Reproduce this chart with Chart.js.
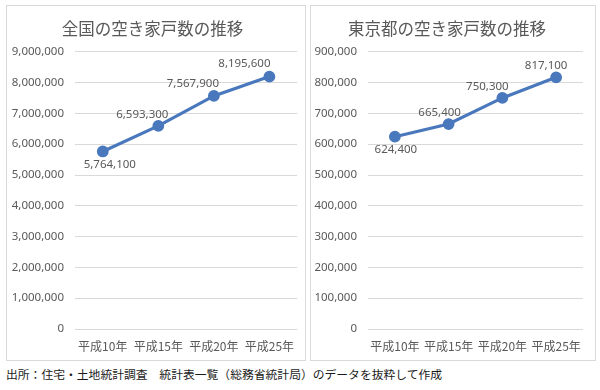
<!DOCTYPE html>
<html>
<head>
<meta charset="utf-8">
<script src="https://cdn.jsdelivr.net/npm/chart.js@4.4.1/dist/chart.umd.min.js"></script>
<style>
  html, body { margin: 0; padding: 0; background: #ffffff; width: 600px; height: 390px; overflow: hidden; }
  .panel { position: absolute; border: 1px solid #d9d9d9; box-sizing: border-box; background: #fff; }
  #p1 { left: 6px; top: 5px; width: 300px; height: 356px; }
  #p2 { left: 310px; top: 5px; width: 286px; height: 356px; }
  .panel canvas { position: absolute; left: 0; top: 0; }
  #footer { position: absolute; left: 6px; top: 365px; font-family: 'Noto Sans CJK JP', sans-serif; font-size: 11.8px; color: #1a1a1a; white-space: nowrap; }
</style>
</head>
<body>
<div class="panel" id="p1"><canvas id="c1" width="298" height="354"></canvas></div>
<div class="panel" id="p2"><canvas id="c2" width="284" height="354"></canvas></div>
<div id="footer">出所：住宅・土地統計調査　統計表一覧（総務省統計局）のデータを抜粋して作成</div>
<script>
// ---- data ----
const categories = ['平成10年', '平成15年', '平成20年', '平成25年'];
const nationalValues = [5764100, 6593300, 7567900, 8195600];
const tokyoValues = [624400, 665400, 750300, 817100];
const nationalTitle = '全国の空き家戸数の推移';
const tokyoTitle = '東京都の空き家戸数の推移';
const nationalAxis = { max: 9000000, step: 1000000 };
const tokyoAxis = { max: 900000, step: 100000 };

const GRAY = '#595959';
const LINE = '#4a78bd';
const numFont = "'Noto Sans', 'Noto Sans CJK JP', sans-serif";
const jpFont = "'Noto Sans CJK JP', sans-serif";

const labelPlugin = {
  id: 'pointLabels',
  afterDatasetsDraw(chart, args, opts) {
    const ctx = chart.ctx;
    const meta = chart.getDatasetMeta(0);
    const data = chart.data.datasets[0].data;
    ctx.save();
    ctx.font = '11.5px ' + numFont;
    ctx.fillStyle = GRAY;
    ctx.textAlign = 'center';
    ctx.textBaseline = 'middle';
    meta.data.forEach((pt, i) => {
      const off = opts.offsets[i];
      ctx.fillText(data[i].toLocaleString('en-US'), pt.x + off[0], pt.y + off[1]);
    });
    ctx.restore();
  }
};

function makeChart(id, title, values, axis, yAxisWidth, padRight, offsets) {
  return new Chart(document.getElementById(id), {
    type: 'line',
    data: {
      labels: categories,
      datasets: [{
        data: values,
        borderColor: LINE,
        backgroundColor: LINE,
        borderWidth: 3.2,
        pointRadius: 4.3,
        pointHoverRadius: 4.3,
        pointBackgroundColor: LINE,
        pointBorderColor: LINE,
        tension: 0,
        fill: false
      }]
    },
    plugins: [labelPlugin],
    options: {
      responsive: false,
      animation: false,
      events: [],
      layout: { padding: { top: 0, left: 0, right: padRight, bottom: 0 } },
      plugins: {
        legend: { display: false },
        tooltip: { enabled: false },
        title: {
          display: true,
          text: title,
          color: GRAY,
          font: { family: jpFont, size: 16.5, weight: 'normal' },
          padding: { top: 13, bottom: 13 }
        },
        pointLabels: { offsets: offsets }
      },
      scales: {
        x: {
          offset: true,
          grid: { display: false, drawTicks: false },
          border: { display: false },
          ticks: { color: GRAY, font: { family: jpFont, size: 12 }, padding: 10, maxRotation: 0, autoSkip: false },
          afterFit(scale) { scale.height = 31; }
        },
        y: {
          min: 0,
          max: axis.max,
          grid: { color: '#d9d9d9', lineWidth: 1, drawTicks: false },
          border: { display: false },
          ticks: {
            stepSize: axis.step,
            color: GRAY,
            font: { family: numFont, size: 11.5 },
            padding: 11,
            callback: (v) => Number(v).toLocaleString('en-US')
          },
          afterFit(scale) { scale.width = yAxisWidth; }
        }
      }
    }
  });
}

makeChart('c1', nationalTitle, nationalValues, nationalAxis, 68, 7,
  [[7, 13], [-16, -11], [-21, -12], [-25, -13]]);
makeChart('c2', tokyoTitle, tokyoValues, tokyoAxis, 57, 12,
  [[1, 13], [-9, -11], [-15, -11], [-10, -12]]);
</script>
</body>
</html>
